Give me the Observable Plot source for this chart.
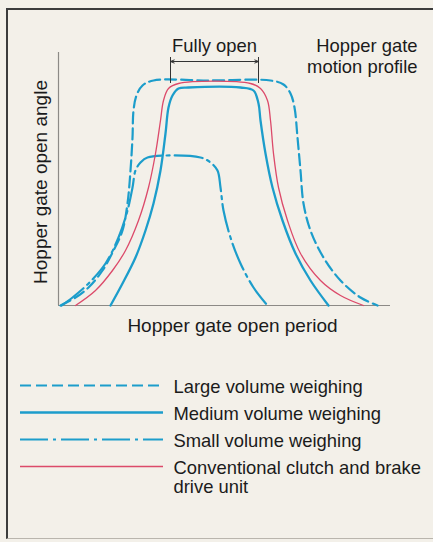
<!DOCTYPE html>
<html>
<head>
<meta charset="utf-8">
<script src="https://cdn.jsdelivr.net/npm/d3@7"></script>
<script src="https://cdn.jsdelivr.net/npm/@observablehq/plot@0.6"></script>
<style>
  html, body { margin: 0; padding: 0; background: #f3f0e9; }
  #wrap { position: relative; width: 433px; height: 542px; overflow: hidden; background: #f3f0e9;
          font-family: "Liberation Sans", Arial, Helvetica, sans-serif; }
  #frame { position: absolute; left: 6px; top: 8px; right: -6px; bottom: 3px;
           border-top: 2px solid #3c3c3c; border-left: 2px solid #3c3c3c; border-bottom: 1px solid #b9b5ad; }
  #chart { position: absolute; left: 0; top: 0; }
  #legend { position: absolute; left: 0; top: 345px; }
  svg { display: block; }
</style>
</head>
<body>
<div id="wrap"><div id="frame"></div><div id="chart"></div><div id="legend"></div></div>
<script>
// ---- data (time units along the open period, angle units) ----
const seriesNames = ["large", "medium", "small", "conventional"];
const seriesLabels = [
  "Large volume weighing",
  "Medium volume weighing",
  "Small volume weighing",
  "Conventional clutch and brake\ndrive unit"
];
const largePoints = [[2,0],[17,8],[30,18],[44,35],[55,55],[64,75],[69,102],[72,135],[74,168],[75,195],[78,210],[84,220],[95,225],[150,225],[212,225],[225,221],[232,212],[236,198],[239,168],[242,135],[245,102],[252,75],[265,48],[282,25],[302,8],[319,0]];
const mediumPoints = [[52,0],[64,22],[77,48],[87,75],[95,102],[102,135],[107,172],[110,198],[114,210],[120,217],[130,218],[182,218],[195,215],[200,202],[202,185],[207,152],[214,118],[224,85],[237,52],[252,25],[270,0]];
const smallPoints = [[3,0],[14,8],[30,22],[47,42],[60,68],[69,95],[74,118],[77,135],[82,143],[89,148],[142,148],[152,143],[159,135],[162,118],[165,95],[172,68],[182,42],[195,18],[209,0]];
const conventionalPoints = [[17,0],[37,15],[54,35],[67,55],[80,85],[90,118],[97,152],[102,185],[105,205],[110,217],[120,222],[192,222],[202,217],[209,205],[212,185],[215,152],[220,118],[229,85],[242,52],[262,25],[282,10],[305,0]];
const fullyOpen = [112, 200];      // start and end of the fully open period
const fullyOpenTop = 248;          // bracket top
const fullyOpenBottom = 222;       // bracket bottom
const fullyOpenArrow = 244;        // arrow level
const xDomain = [0, 332];
const yDomain = [0, 253];

const blue = "#1c9dcb";
const red = "#dc4a6a";
const styles = {
  large:        {stroke: blue, strokeWidth: 2.2, strokeDasharray: "11,5"},
  medium:       {stroke: blue, strokeWidth: 2.3},
  small:        {stroke: blue, strokeWidth: 2.2, strokeDasharray: "28,5,3,5"},
  conventional: {stroke: red,  strokeWidth: 1.3}
};
const pointsBy = {large: largePoints, medium: mediumPoints, small: smallPoints, conventional: conventionalPoints};

const font = '"Liberation Sans", Arial, Helvetica, sans-serif';
const ink = "#1b1b1b";

const lineMarks = seriesNames.map(name =>
  Plot.line(pointsBy[name].map(([t, a]) => ({t, a})), {x: "t", y: "a", curve: "catmull-rom", ...styles[name]})
);
const mid = (fullyOpen[0] + fullyOpen[1]) / 2;

const chart = Plot.plot({
  width: 433, height: 345,
  marginLeft: 58, marginRight: 43, marginTop: 52, marginBottom: 40,
  x: {domain: xDomain, axis: null},
  y: {domain: yDomain, axis: null},
  style: {background: "none", fontFamily: font, overflow: "visible", color: ink},
  marks: [
    Plot.ruleY([0], {stroke: "#8c8a86", strokeWidth: 1.2}),
    Plot.ruleX([0], {stroke: "#8c8a86", strokeWidth: 1.2}),
    ...lineMarks,
    Plot.ruleX(fullyOpen, {y1: fullyOpenBottom, y2: fullyOpenTop, stroke: "#333", strokeWidth: 1}),
    Plot.arrow(fullyOpen.map(e => ({x1: mid, x2: e})), {x1: "x1", x2: "x2", y1: fullyOpenArrow, y2: fullyOpenArrow, stroke: "#333", strokeWidth: 1, headLength: 6, headAngle: 45}),
    Plot.text(["Fully open"], {x: mid, frameAnchor: "top", lineAnchor: "bottom", dy: -1, fontSize: 18.4, fill: ink}),
    Plot.text(["Hopper gate\nmotion profile"], {frameAnchor: "top-right", textAnchor: "end", lineAnchor: "bottom", dx: 27, dy: 20, lineHeight: 1.13, fontSize: 18.4, fill: ink}),
    Plot.text(["Hopper gate open period"], {frameAnchor: "bottom", lineAnchor: "top", dx: 8, dy: 13, fontSize: 19, fill: ink}),
    Plot.text(["Hopper gate open angle"], {frameAnchor: "left", rotate: -90, textAnchor: "middle", lineAnchor: "middle", dx: -18, dy: 3, fontSize: 19, fill: ink})
  ]
});
document.getElementById("chart").appendChild(chart);

const legendData = seriesNames.map((name, i) => ({name, label: seriesLabels[i]}));
const legend = Plot.plot({
  width: 433, height: 197,
  marginLeft: 0, marginRight: 0, marginTop: 0, marginBottom: 0,
  x: {domain: [0, 433], axis: null},
  y: {type: "point", domain: seriesNames, range: [40, 121], padding: 0, axis: null},
  style: {background: "none", fontFamily: font, overflow: "visible", color: ink},
  marks: [
    ...legendData.map(d => Plot.ruleY([d], {y: "name", x1: 20, x2: 163, ...styles[d.name]})),
    Plot.text(legendData, {x: 173, y: "name", text: "label", textAnchor: "start", lineAnchor: "top", dy: -6.6, lineHeight: 1.06, fontSize: 18.4, fill: ink})
  ]
});
document.getElementById("legend").appendChild(legend);
</script>
</body>
</html>
